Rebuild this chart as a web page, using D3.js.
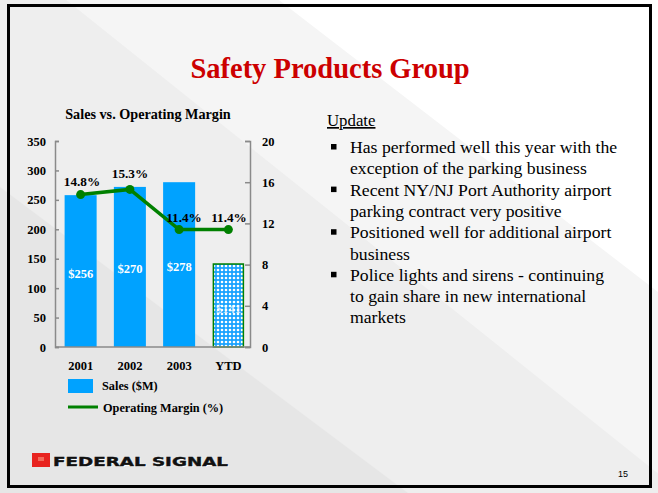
<!DOCTYPE html>
<html><head><meta charset="utf-8">
<script src="https://cdn.jsdelivr.net/npm/d3@7"></script>
<style>html,body{margin:0;padding:0;background:#fff;}svg{display:block;}</style>
</head><body>
<script>
const categories = ["2001", "2002", "2003", "YTD"];
const sales = [258, 272, 280, 141];
const salesLabels = ["$256", "$270", "$278", "$141"];
const margin = [14.8, 15.3, 11.4, 11.4];
const marginLabels = ["14.8%", "15.3%", "11.4%", "11.4%"];
const leftTicks = [0, 50, 100, 150, 200, 250, 300, 350];
const rightTicks = [0, 4, 8, 12, 16, 20];
const bullets = [
  ["Has performed well this year with the", "exception of the parking business"],
  ["Recent NY/NJ Port Authority airport", "parking contract very positive"],
  ["Positioned well for additional airport", "business"],
  ["Police lights and sirens - continuing", "to gain share in new international", "markets"]
];

const W = 658, H = 493;
const svg = d3.select("body").append("svg").attr("width", W).attr("height", H);
const serif = "'Liberation Serif','Times New Roman',serif";

// background
const bg = svg.append("g");
bg.append("rect").attr("x",0).attr("y",0).attr("width",W).attr("height",H).attr("fill","#ffffff");
function band(x0, y0, slope, color) {
  const yAt = x => y0 + slope * (x - x0);
  bg.append("path").attr("fill", color)
    .attr("d", `M-200,${yAt(-200)} L900,${yAt(900)} L900,600 L-200,600 Z`);
}
band(288, 7, 0.77, "#f5f5f5");
band(75, 7, 0.8, "#eeeeee");
band(20, 202, 0.75, "#e6e6e6");

// frame
svg.append("rect").attr("x",8.5).attr("y",5.5).attr("width",642).attr("height",481)
  .attr("fill","none").attr("stroke","#000").attr("stroke-width",3);

// title
svg.append("text").attr("x",330).attr("y",78).attr("text-anchor","middle")
  .attr("font-family",serif).attr("font-weight","bold").attr("font-size",28.5)
  .attr("fill","#cc0000").text("Safety Products Group");

// chart
const y = d3.scaleLinear().domain([0,350]).range([347,141]);
const y2 = d3.scaleLinear().domain([0,20]).range([347,141]);
const x = d3.scaleBand().domain(categories).range([56,253]).paddingInner(0.35).paddingOuter(0.175);

svg.append("text").attr("x",148).attr("y",119).attr("text-anchor","middle")
  .attr("font-family",serif).attr("font-weight","bold").attr("font-size",14.2)
  .attr("fill","#000").text("Sales vs. Operating Margin");

const defs = svg.append("defs");
const pat = defs.append("pattern").attr("id","chk").attr("patternUnits","userSpaceOnUse")
  .attr("width",4).attr("height",4);
pat.append("rect").attr("width",4).attr("height",4).attr("fill","#1aa3ff");
pat.append("circle").attr("cx",2).attr("cy",2).attr("r",1.3).attr("fill","#ffffff");

const axisCol = "#8a8a8a";
const la = svg.append("g").attr("transform","translate(55,0)")
  .call(d3.axisLeft(y).tickValues(leftTicks).tickSize(-4).tickPadding(9).tickFormat(d3.format("d")));
const ra = svg.append("g").attr("transform","translate(250,0)")
  .call(d3.axisRight(y2).tickValues(rightTicks).tickSize(-5).tickPadding(9).tickFormat(d3.format("d")));
[la, ra].forEach(a => {
  a.select(".domain").attr("stroke",axisCol).attr("stroke-width",1.5);
  a.selectAll(".tick line").attr("stroke",axisCol).attr("stroke-width",1.5);
  a.selectAll(".tick text").attr("font-family",serif).attr("font-weight","bold").attr("font-size",12.5).attr("fill","#000");
});
ra.selectAll(".tick text").attr("dx",3);

// bars
const bw = x.bandwidth();
svg.append("g").selectAll("rect").data(categories).join("rect")
  .attr("x", d => x(d) + (d === "YTD" ? 1 : 0))
  .attr("width", d => d === "YTD" ? bw - 2 : bw)
  .attr("y", (d,i) => y(sales[i]))
  .attr("height", (d,i) => y(0) - y(sales[i]))
  .attr("fill", d => d === "YTD" ? "url(#chk)" : "#00a2ff")
  .attr("stroke", d => d === "YTD" ? "#008000" : "none")
  .attr("stroke-width", 1.5);

svg.append("line").attr("x1",55).attr("x2",250).attr("y1",347).attr("y2",347)
  .attr("stroke",axisCol).attr("stroke-width",1.5);

// bar labels
const barLabelY = [274, 269, 267, 309];
svg.append("g").selectAll("text").data(categories).join("text")
  .attr("x", d => x(d) + bw/2).attr("y", (d,i) => barLabelY[i]).attr("dy","0.35em")
  .attr("text-anchor","middle").attr("font-family",serif).attr("font-weight","bold")
  .attr("font-size",12.5).attr("fill","#fff").attr("fill-opacity", d => d === "YTD" ? 0.75 : 1)
  .text((d,i) => salesLabels[i]);

// line
const line = d3.line().x((d,i) => x(categories[i]) + bw/2).y(d => y2(d));
svg.append("path").datum(margin).attr("d", line).attr("fill","none")
  .attr("stroke","#008000").attr("stroke-width",3.5);
svg.append("g").selectAll("circle").data(margin).join("circle")
  .attr("cx",(d,i) => x(categories[i]) + bw/2).attr("cy", d => y2(d)).attr("r",4.5)
  .attr("fill","#008000");

// margin labels
const mlx = [82, 130, 184, 229], mly = [181, 173, 217, 217];
svg.append("g").selectAll("text").data(marginLabels).join("text")
  .attr("x",(d,i) => mlx[i]).attr("y",(d,i) => mly[i]).attr("dy","0.35em")
  .attr("text-anchor","middle").attr("font-family",serif).attr("font-weight","bold")
  .attr("font-size",13.2).attr("fill","#000").text(d => d);

// category labels
svg.append("g").selectAll("text").data(categories).join("text")
  .attr("x", d => x(d) + bw/2).attr("y", 366).attr("dy","0.35em")
  .attr("text-anchor","middle").attr("font-family",serif).attr("font-weight","bold")
  .attr("font-size",12.5).attr("fill","#000").text(d => d);

// legend
svg.append("rect").attr("x",68).attr("y",379).attr("width",25).attr("height",14).attr("fill","#00a2ff");
svg.append("text").attr("x",102).attr("y",386).attr("dy","0.35em").attr("font-family",serif)
  .attr("font-weight","bold").attr("font-size",12.3).attr("fill","#000").text("Sales ($M)");
svg.append("line").attr("x1",68).attr("x2",98).attr("y1",407).attr("y2",407)
  .attr("stroke","#008000").attr("stroke-width",3);
svg.append("text").attr("x",103).attr("y",408).attr("dy","0.35em").attr("font-family",serif)
  .attr("font-weight","bold").attr("font-size",12.3).attr("fill","#000").text("Operating Margin (%)");

// Update text
svg.append("text").attr("x",327).attr("y",126).attr("font-family",serif)
  .attr("font-size",16.8).attr("fill","#000").attr("text-decoration","underline").text("Update");
let ly = 153;
const lh = 21.3;
bullets.forEach(b => {
  svg.append("rect").attr("x",331).attr("y",ly-9).attr("width",5.5).attr("height",5.5).attr("fill","#000");
  b.forEach(t => {
    svg.append("text").attr("x",350).attr("y",ly).attr("font-family",serif)
      .attr("font-size",17.7).attr("fill","#000").text(t);
    ly += lh;
  });
});

// logo
const lg = svg.append("g");
lg.append("rect").attr("x",32).attr("y",453).attr("width",18).attr("height",14).attr("fill","#e8231f");
lg.append("rect").attr("x",38).attr("y",457).attr("width",6).attr("height",4).attr("fill","#f26a5a");
lg.append("text").attr("x",53).attr("y",466).attr("font-family","'DejaVu Sans',sans-serif")
  .attr("font-weight","bold").attr("font-size",12.5).attr("fill","#fff")
  .attr("textLength",175).attr("lengthAdjust","spacingAndGlyphs").attr("dx",1).attr("dy",1).text("FEDERAL SIGNAL");
lg.append("text").attr("x",53).attr("y",466).attr("font-family","'DejaVu Sans',sans-serif")
  .attr("font-weight","bold").attr("font-size",12.5).attr("fill","#111").attr("stroke","#111").attr("stroke-width",0.4)
  .attr("textLength",175).attr("lengthAdjust","spacingAndGlyphs").text("FEDERAL SIGNAL");

// page number
svg.append("text").attr("x",618).attr("y",477).attr("font-family","'Liberation Sans',Arial,sans-serif")
  .attr("font-size",9).attr("fill","#000").text("15");
</script>
</body></html>
